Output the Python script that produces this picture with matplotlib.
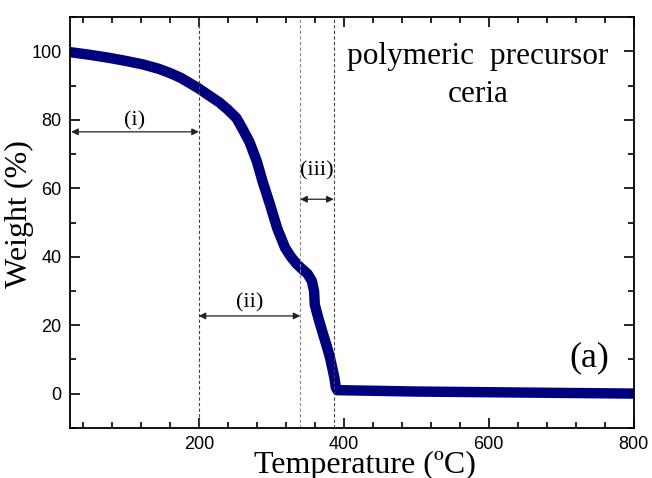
import numpy as np
import matplotlib
matplotlib.use("Agg")
import matplotlib.pyplot as plt
from matplotlib.ticker import MultipleLocator

# TGA curve
temp = [22, 50, 77, 100, 123, 145, 160, 175, 183, 199, 215, 229, 240, 252, 260, 270,
        280, 288, 298, 308, 319, 327, 335, 343, 350, 356, 359, 360, 365, 370,
        376, 381, 387, 389, 391, 420, 500, 600, 700, 800]
weight = [99.8, 99.0, 98.1, 97.2, 96.2, 94.9, 93.7, 92.3, 91.3, 89.3, 87.0, 85.0, 83.0, 80.5, 77.5, 73.5,
          67.9, 62.0, 55.4, 48.4, 42.6, 40.0, 37.9, 36.3, 35.0, 32.9, 30.0, 26.0, 22.0, 18.4,
          14.2, 10.5, 4.7, 1.8, 1.0, 0.9, 0.6, 0.4, 0.2, 0.0]

steps = [200, 340, 386]
step_labels = ["(i)", "(ii)", "(iii)"]
step_spans = [(24, 200), (200, 340), (340, 386)]
arrow_y = [76.5, 22.7, 56.8]
label_y = [79.8, 26.6, 65.2]

serif = "Liberation Serif"
sans = "Liberation Sans"

fig = plt.figure(figsize=(6.52, 4.78), dpi=100)
ax = fig.add_axes([0.107, 0.105, 0.865, 0.859])

ax.plot(temp, weight, color="#00007f", lw=7.5, solid_capstyle="round", solid_joinstyle="round")

for s, c in zip(steps, ["#444444", "#888888", "#444444"]):
    ax.axvline(s, color=c, lw=0.8, ls=(0, (3, 2)))

for lab, (a, b), ya, yl in zip(step_labels, step_spans, arrow_y, label_y):
    ax.annotate("", xy=(b, ya), xytext=(a, ya),
                arrowprops=dict(arrowstyle="<|-|>", color="#222222", lw=0.9,
                                mutation_scale=10, shrinkA=0, shrinkB=0))
    ax.text((a + b) / 2, yl, lab, ha="center", va="center", family=serif, fontsize=16)

ax.text(585, 98.5, "polymeric  precursor", ha="center", va="center", family=serif, fontsize=22.5)
ax.text(585, 87.5, "ceria", ha="center", va="center", family=serif, fontsize=22.5)
ax.text(739, 10.5, "(a)", ha="center", va="center", family=serif, fontsize=26)

ax.set_xlim(22, 800)
ax.set_ylim(-10, 110)
ax.xaxis.set_major_locator(MultipleLocator(200))
ax.xaxis.set_minor_locator(MultipleLocator(40))
ax.yaxis.set_major_locator(MultipleLocator(20))
ax.yaxis.set_minor_locator(MultipleLocator(10))
ax.tick_params(which="both", direction="in", top=True, right=True, width=1.2)
ax.tick_params(which="major", length=7, labelsize=13, pad=6)
ax.tick_params(which="minor", length=4)
for lbl in ax.get_xticklabels() + ax.get_yticklabels():
    lbl.set_family(sans)
for sp in ax.spines.values():
    sp.set_linewidth(1.3)

ax.set_xlabel("Temperature (ºC)", family=serif, fontsize=23)
ax.xaxis.set_label_coords(0.523, -0.056)
ax.set_ylabel("Weight (%)", family=serif, fontsize=23)
ax.yaxis.set_label_coords(-0.064, 0.52)

fig.savefig("out.png", dpi=100)
